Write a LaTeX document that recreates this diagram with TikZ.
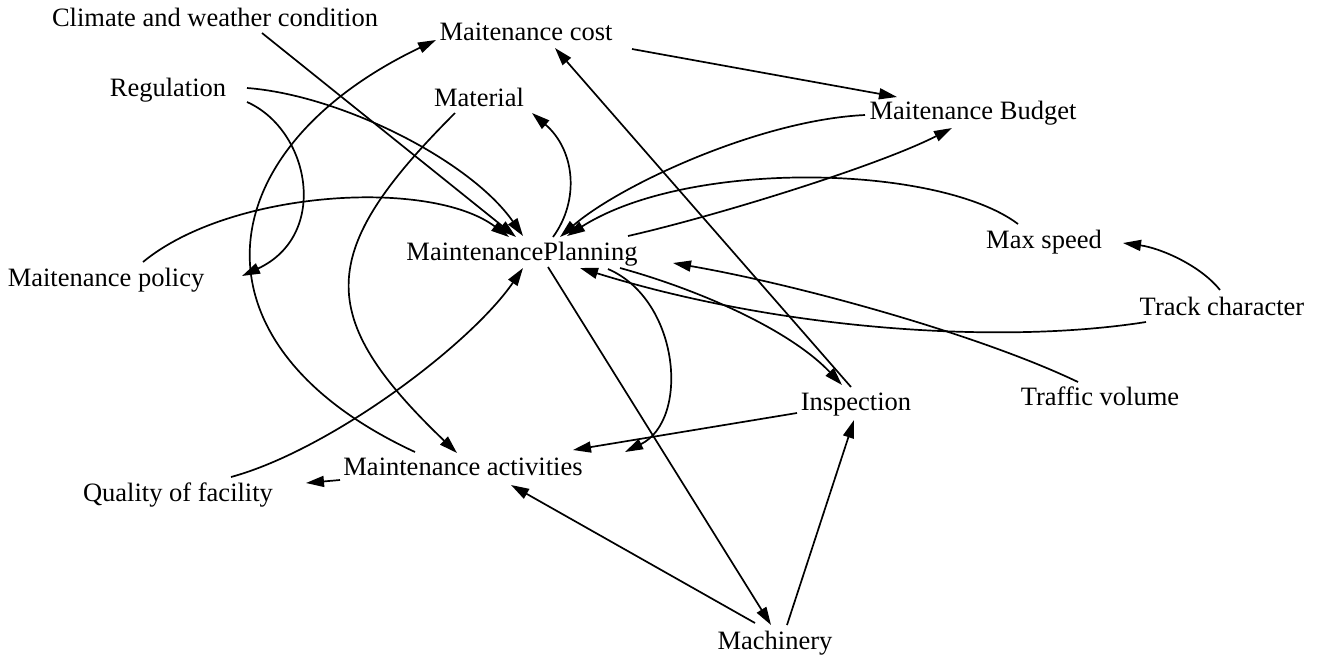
\documentclass[tikz,border=0pt]{standalone}
\usepackage{fontspec}
\setmainfont{Liberation Serif}
\usetikzlibrary{arrows.meta,calc}
\begin{document}
\begin{tikzpicture}[x=1pt,y=-1pt,
  lbl/.style={inner sep=0pt, font=\fontsize{26.5}{30}\selectfont,
    text height=18.5pt, text depth=5.8pt},
  arr/.style={line width=1.7pt, -{Triangle[length=18pt,width=11pt]}}]
\useasboundingbox (0,0) rectangle (1317,657);

% factors
\node[lbl] (clim)  at (215,20)  {Climate and weather condition};
\node[lbl] (cost)  at (526,34)  {Maitenance cost};
\node[lbl] (reg)   at (168,90)  {Regulation};
\node[lbl] (mat)   at (479,100) {Material};
\node[lbl] (bud)   at (973,113) {Maitenance Budget};
\node[lbl] (mp)    at (522,254) {MaintenancePlanning};
\node[lbl] (pol)   at (106,280) {Maitenance policy};
\node[lbl] (maxs)  at (1044,242) {Max speed};
\node[lbl] (track) at (1222,309) {Track character};
\node[lbl] (insp)  at (856,404) {Inspection};
\node[lbl] (traf)  at (1100,399) {Traffic volume};
\node[lbl] (act)   at (463,469) {Maintenance activities};
\node[lbl] (qual)  at (178,495) {Quality of facility};
\node[lbl] (mach)  at (775,643) {Machinery};

% influences into the planning node
\draw[arr] ($(clim)+(47,13)$) -- ($(mp)+(-6,-17)$);
\draw[arr] ($(reg)+(79,-2)$) .. controls (340,95) and (470,160) .. ($(mp)+(1,-18)$);
\draw[arr] ($(pol)+(37,-18)$) .. controls (230,190) and (430,178) .. ($(mp)+(-13,-17)$);
\draw[arr] ($(qual)+(53,-18)$) .. controls (330,450) and (470,345) .. ($(mp)+(1,14)$);
\draw[arr] ($(bud)+(-108,2)$) .. controls (760,120) and (620,185) .. ($(mp)+(38,-17)$);
\draw[arr] ($(maxs)+(-26,-18)$) .. controls (940,165) and (690,158) .. ($(mp)+(45,-18)$);
\draw[arr] ($(track)+(-76,13)$) .. controls (1000,345) and (780,330) .. ($(mp)+(58,14)$);
\draw[arr] ($(traf)+(-22,-17)$) .. controls (980,335) and (800,285) .. ($(mp)+(151,9)$);

% influences out of the planning node
\draw[arr] ($(mp)+(31,-17)$) .. controls (580,200) and (575,150) .. ($(mat)+(53,13)$);
\draw[arr] ($(mp)+(106,-18)$) .. controls (720,215) and (880,165) .. ($(bud)+(-21,15)$);
\draw[arr] ($(mp)+(98,14)$) .. controls (700,290) and (790,330) .. ($(insp)+(-14,-19)$);
\draw[arr] ($(mp)+(86,15)$) .. controls (680,300) and (690,420) .. ($(act)+(162,-17)$);
\draw[arr] ($(mp)+(26,13)$) -- ($(mach)+(-4,-18)$);

% remaining links
\draw[arr] ($(reg)+(79,12)$) .. controls (310,130) and (330,235) .. ($(pol)+(136,-4)$);
\draw[arr] ($(act)+(-48,-17)$) .. controls (182,344) and (206,150) .. ($(cost)+(-90,6)$);
\draw[arr] ($(mat)+(-24,13)$) .. controls (316,252) and (314,316) .. ($(act)+(-6,-16)$);
\draw[arr] ($(act)+(-123,11)$) -- ($(qual)+(128,-12)$);
\draw[arr] ($(cost)+(106,15)$) -- ($(bud)+(-76,-16)$);
\draw[arr] ($(insp)+(-5,-17)$) -- ($(cost)+(29,14)$);
\draw[arr] ($(track)+(-2,-19)$) .. controls (1200,265) and (1160,248) .. ($(maxs)+(79,1)$);
\draw[arr] ($(insp)+(-59,9)$) -- ($(act)+(110,-19)$);
\draw[arr] ($(mach)+(-20,-20)$) -- ($(act)+(48,16)$);
\draw[arr] ($(mach)+(12,-18)$) -- ($(insp)+(-2,16)$);
\end{tikzpicture}
\end{document}
